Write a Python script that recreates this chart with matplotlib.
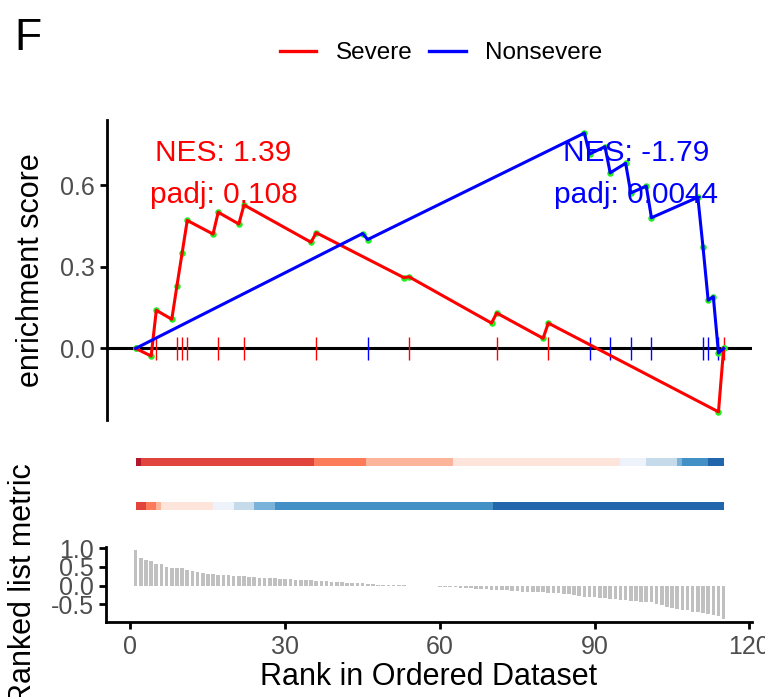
import matplotlib
matplotlib.use("Agg")
import matplotlib.pyplot as plt
from matplotlib.lines import Line2D
import numpy as np

plt.rcParams['font.family'] = ['Liberation Sans', 'DejaVu Sans']

# running enrichment score (points at each step of the walk)
sev_rank = [1, 4, 5, 8, 9, 10, 11, 16, 17, 21, 22, 35, 36, 53, 54, 70, 71, 80, 81, 114, 115]
sev_es = [0.0, -0.028, 0.14, 0.107, 0.23, 0.35, 0.47, 0.42, 0.50, 0.457, 0.527, 0.39, 0.425,
          0.26, 0.263, 0.093, 0.13, 0.037, 0.093, -0.233, 0.0]
non_rank = [1, 45, 46, 88, 89, 92, 93, 96, 97, 100, 101, 110, 111, 112, 113, 114, 115]
non_es = [0.0, 0.422, 0.40, 0.791, 0.714, 0.741, 0.645, 0.680, 0.571, 0.596, 0.48, 0.555,
          0.372, 0.177, 0.19, -0.017, 0.0]

# gene set hits
sev_hits = [5, 9, 10, 11, 17, 22, 36, 54, 71, 81, 115]
non_hits = [46, 89, 93, 97, 101, 111, 112, 114]

sev_label = ["NES: 1.39", "padj: 0.108"]
non_label = ["NES: -1.79", "padj: 0.0044"]

# ranked list metric, rank 1..115
metric = [0.96, 0.75, 0.69, 0.66, 0.59, 0.59, 0.50, 0.47, 0.47, 0.47,
          0.41, 0.38, 0.37, 0.35, 0.32, 0.30, 0.29, 0.29, 0.29, 0.26,
          0.26, 0.25, 0.23, 0.23, 0.21, 0.21, 0.20, 0.195, 0.19, 0.18,
          0.18, 0.16, 0.16, 0.15, 0.14, 0.13, 0.12, 0.12, 0.11, 0.10,
          0.09, 0.08, 0.08, 0.07, 0.06, 0.05, 0.04, 0.03, 0.025, 0.02,
          0.01, 0.008, 0.005, 0.003, 0.0, -0.005, -0.01, -0.015, -0.02, -0.03,
          -0.04, -0.05, -0.05, -0.06, -0.06, -0.07, -0.08, -0.09, -0.10, -0.11,
          -0.12, -0.125, -0.13, -0.14, -0.15, -0.16, -0.16, -0.17, -0.18, -0.18,
          -0.19, -0.20, -0.21, -0.215, -0.23, -0.25, -0.28, -0.30, -0.31, -0.31,
          -0.33, -0.33, -0.35, -0.37, -0.375, -0.375, -0.41, -0.42, -0.43, -0.43,
          -0.44, -0.49, -0.52, -0.56, -0.61, -0.63, -0.64, -0.65, -0.70, -0.70,
          -0.74, -0.76, -0.79, -0.80, -0.88]
ranks = np.arange(1, len(metric) + 1)

# colour strips: segment edges (rank) and colours
sev_edges = [1, 2, 35.6, 45.6, 62.5, 95, 100, 106, 107, 112, 115]
sev_cols = ['#B2182B', '#E0443C', '#FB7B5B', '#FCB59B', '#FEE5DB',
            '#EEF3FB', '#C6DBEA', '#79B3DA', '#4390C6', '#2166AC']
non_edges = [1, 3, 5, 6, 16, 20, 24, 28, 70.3, 115]
non_cols = ['#E0443C', '#FB7B5B', '#FCB59B', '#FEE5DB', '#EEF3FB',
            '#C6DBEA', '#79B3DA', '#4390C6', '#2166AC']

W, H = 765, 697
fig = plt.figure(figsize=(W / 100, H / 100), dpi=100)
xl = (-4.56, 120.5)
grey = '#4D4D4D'

### enrichment panel ###
ax1 = fig.add_axes([107 / W, 1 - 420 / H, 645 / W, 300 / H])
ax1.axhline(0, color='black', lw=2.2, zorder=1)
ax1.vlines(sev_hits, -0.044, 0.043, color='red', lw=1, zorder=2)
ax1.vlines(non_hits, -0.044, 0.043, color='blue', lw=1, zorder=2)
ax1.scatter(sev_rank, sev_es, s=22, color='#22EE22', zorder=3, linewidths=0)
ax1.scatter(non_rank, non_es, s=22, color='#22EE22', zorder=3, linewidths=0)
ax1.plot(sev_rank, sev_es, color='red', lw=2.2, zorder=4)
ax1.plot(non_rank, non_es, color='blue', lw=2.2, zorder=4)
for i, t in enumerate(sev_label):
    ax1.text(18, 0.717 - i * 0.154, t, color='red', fontsize=21.5, ha='center', va='center', zorder=5)
for i, t in enumerate(non_label):
    ax1.text(98, 0.717 - i * 0.154, t, color='blue', fontsize=21.5, ha='center', va='center', zorder=5)
ax1.set_xlim(*xl)
ax1.set_ylim(-0.263, 0.839)
ax1.set_yticks([0, 0.3, 0.6])
ax1.set_yticklabels(['0.0', '0.3', '0.6'])
ax1.set_xticks([])
for s in ['top', 'right', 'bottom']:
    ax1.spines[s].set_visible(False)
ax1.spines['left'].set_linewidth(2)
ax1.tick_params(axis='y', length=5, width=2, labelsize=18, labelcolor=grey, pad=4)
ax1.set_ylabel("enrichment score", fontsize=22)
ax1.yaxis.set_label_coords(-0.095, 0.5)

### colour strips ###
ax2 = fig.add_axes([107 / W, 1 - 520 / H, 645 / W, 80 / H])
for edges, cols, yc in [(sev_edges, sev_cols, 0.725), (non_edges, non_cols, 0.175)]:
    left = np.array(edges[:-1])
    width = np.diff(edges)
    ax2.barh(yc, width, left=left, height=0.0925, color=cols, edgecolor='none')
ax2.set_xlim(*xl)
ax2.set_ylim(0, 1)
ax2.axis('off')

### ranked metric panel ###
ax3 = fig.add_axes([106 / W, 1 - 622.3 / H, 646 / W, 75.6 / H])
ax3.bar(ranks, metric, width=0.7, color='#C0C0C0', edgecolor='none')
ax3.set_xlim(-4.75, 120.5)
ax3.set_ylim(-0.98, 1.04)
ax3.set_xticks([0, 30, 60, 90, 120])
ax3.set_yticks([-0.5, 0, 0.5, 1.0])
ax3.set_yticklabels(['-0.5', '0.0', '0.5', '1.0'])
for s in ['top', 'right']:
    ax3.spines[s].set_visible(False)
for s in ['left', 'bottom']:
    ax3.spines[s].set_linewidth(2)
ax3.tick_params(length=5, width=2, labelsize=18, labelcolor=grey, pad=4)
ax3.set_xlabel("Rank in Ordered Dataset", fontsize=22, labelpad=2)
ax3.set_ylabel("Ranked list metric", fontsize=22)
ax3.yaxis.set_label_coords(-0.105, 0.5)

### legend + panel letter ###
handles = [Line2D([], [], color='red', lw=2.4), Line2D([], [], color='blue', lw=2.4)]
fig.legend(handles, ['Severe', 'Nonsevere'], loc='center', bbox_to_anchor=(441 / W, 1 - 53 / H),
           ncol=2, frameon=False, fontsize=17.5, handlelength=1.5, handletextpad=0.8,
           columnspacing=0.7)
fig.text(14 / W, 1 - 38 / H, "F", fontsize=32, va='center', ha='left')

fig.savefig("out.png", dpi=100)
